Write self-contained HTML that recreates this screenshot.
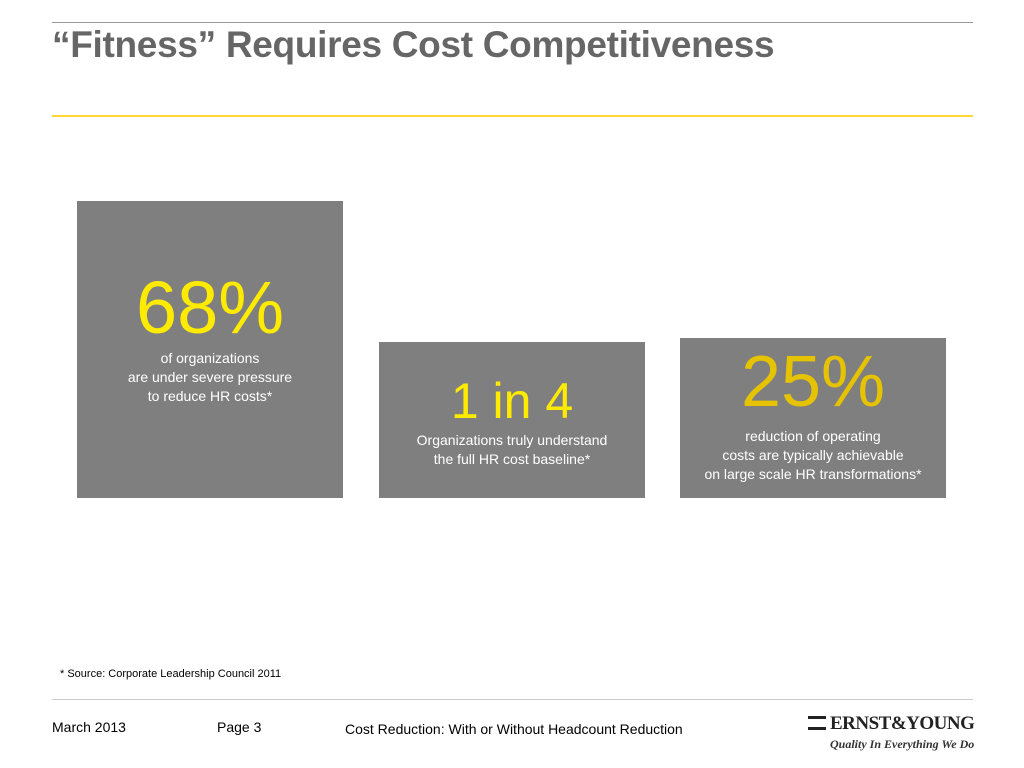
<!DOCTYPE html>
<html><head><meta charset="utf-8"><style>
body{margin:0;width:1024px;height:768px;background:#fff;font-family:"Liberation Sans",sans-serif;position:relative;overflow:hidden}
.a{position:absolute}
.box{position:absolute;background:#7f7f7f;color:#fff;text-align:center}
.big{position:absolute;left:0;right:0;line-height:1}
.sm{position:absolute;left:0;right:0;font-size:14px;line-height:19px}
</style></head><body>
<div class="a" style="left:52px;top:22px;width:921px;height:1px;background:#999"></div>
<div class="a" style="left:52px;top:24px;font-size:37px;font-weight:bold;color:#666;letter-spacing:-0.3px">“Fitness” Requires Cost Competitiveness</div>
<div class="a" style="left:52px;top:115px;width:921px;height:2px;background:#ffd633"></div>

<div class="box" style="left:77px;top:201px;width:266px;height:297px">
<div class="big" style="top:70px;font-size:74px;color:#ffeb00">68%</div>
<div class="sm" style="top:148px">of organizations<br>are under severe pressure<br>to reduce HR costs*</div>
</div>
<div class="box" style="left:379px;top:342px;width:266px;height:156px">
<div class="big" style="top:34px;font-size:50px;color:#ffeb00">1 in 4</div>
<div class="sm" style="top:89px">Organizations truly understand<br>the full HR cost baseline*</div>
</div>
<div class="box" style="left:680px;top:338px;width:266px;height:160px">
<div class="big" style="top:8px;font-size:72px;color:#e6c300">25%</div>
<div class="sm" style="top:89px">reduction of operating<br>costs are typically achievable<br>on large scale HR transformations*</div>
</div>

<div class="a" style="left:60px;top:668px;font-size:11px;color:#000">* Source: Corporate Leadership Council 2011</div>
<div class="a" style="left:52px;top:699px;width:921px;height:1px;background:#ccc"></div>
<div class="a" style="left:52px;top:719px;font-size:14px">March 2013</div>
<div class="a" style="left:217px;top:719px;font-size:14px">Page 3</div>
<div class="a" style="left:345px;top:721px;font-size:14px">Cost Reduction: With or Without Headcount Reduction</div>
<div class="a" style="left:808px;top:713px;width:170px">
<div style="font-family:'Liberation Serif',serif;font-weight:bold;font-size:19px;color:#222;letter-spacing:-0.5px;white-space:nowrap"><span style="display:inline-block;width:18px;height:14px;border-top:3px solid #222;border-bottom:3px solid #222;box-sizing:border-box;margin-right:4px;vertical-align:-1px"></span>ERNST&amp;YOUNG</div>
<div style="font-family:'Liberation Serif',serif;font-style:italic;font-weight:bold;font-size:12px;color:#333;margin-left:22px;margin-top:2px;white-space:nowrap">Quality In Everything We Do</div>
</div>
</body></html>
